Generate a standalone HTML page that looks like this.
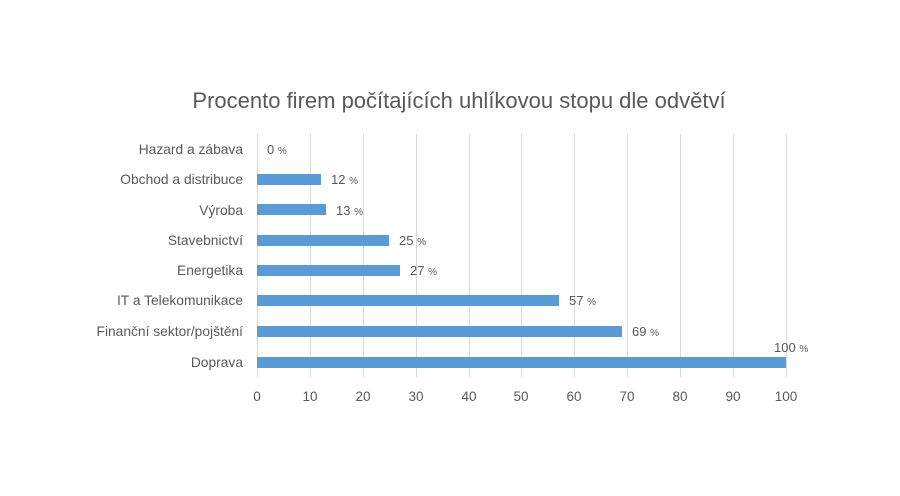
<!DOCTYPE html>
<html><head><meta charset="utf-8"><style>
body{margin:0;background:#fff}
svg text{font-family:"Liberation Sans","DejaVu Sans",sans-serif;fill:#595959}
</style></head><body>
<svg width="900" height="491" viewBox="0 0 900 491" xmlns="http://www.w3.org/2000/svg">
<rect width="900" height="491" fill="#fff"/>
<text x="459" y="108" font-size="22" text-anchor="middle">Procento firem počítajících uhlíkovou stopu dle odvětví</text>
<g stroke="#d9d9d9" stroke-width="1">
<line x1="257.5" y1="134" x2="257.5" y2="377"/>
<line x1="310.5" y1="134" x2="310.5" y2="377"/>
<line x1="363.5" y1="134" x2="363.5" y2="377"/>
<line x1="416.5" y1="134" x2="416.5" y2="377"/>
<line x1="469.5" y1="134" x2="469.5" y2="377"/>
<line x1="521.5" y1="134" x2="521.5" y2="377"/>
<line x1="574.5" y1="134" x2="574.5" y2="377"/>
<line x1="627.5" y1="134" x2="627.5" y2="377"/>
<line x1="680.5" y1="134" x2="680.5" y2="377"/>
<line x1="733.5" y1="134" x2="733.5" y2="377"/>
<line x1="786.5" y1="134" x2="786.5" y2="377"/>
</g>
<g fill="#5b9bd5">
<rect x="257" y="174" width="64" height="11"/>
<rect x="257" y="204" width="69" height="11"/>
<rect x="257" y="235" width="132" height="11"/>
<rect x="257" y="265" width="143" height="11"/>
<rect x="257" y="295" width="302" height="11"/>
<rect x="257" y="326" width="365" height="11"/>
<rect x="257" y="357" width="529" height="11"/>
</g>
<g font-size="13.8" text-anchor="end">
<text x="243" y="154">Hazard a zábava</text>
<text x="243" y="184">Obchod a distribuce</text>
<text x="243" y="215">Výroba</text>
<text x="243" y="245">Stavebnictví</text>
<text x="243" y="275">Energetika</text>
<text x="243" y="305">IT a Telekomunikace</text>
<text x="243" y="336">Finanční sektor/pojštění</text>
<text x="243" y="367">Doprava</text>
</g>
<g font-size="13">
<text x="267" y="154">0 <tspan font-size="10">%</tspan></text>
<text x="331" y="184">12 <tspan font-size="10">%</tspan></text>
<text x="336" y="215">13 <tspan font-size="10">%</tspan></text>
<text x="399" y="245">25 <tspan font-size="10">%</tspan></text>
<text x="410" y="275">27 <tspan font-size="10">%</tspan></text>
<text x="569" y="305">57 <tspan font-size="10">%</tspan></text>
<text x="632" y="336">69 <tspan font-size="10">%</tspan></text>
<text x="774" y="352">100 <tspan font-size="10">%</tspan></text>
</g>
<g font-size="13.5" text-anchor="middle">
<text x="257" y="401">0</text>
<text x="310" y="401">10</text>
<text x="363" y="401">20</text>
<text x="416" y="401">30</text>
<text x="469" y="401">40</text>
<text x="521" y="401">50</text>
<text x="574" y="401">60</text>
<text x="627" y="401">70</text>
<text x="680" y="401">80</text>
<text x="733" y="401">90</text>
<text x="786" y="401">100</text>
</g>
</svg>
</body></html>
